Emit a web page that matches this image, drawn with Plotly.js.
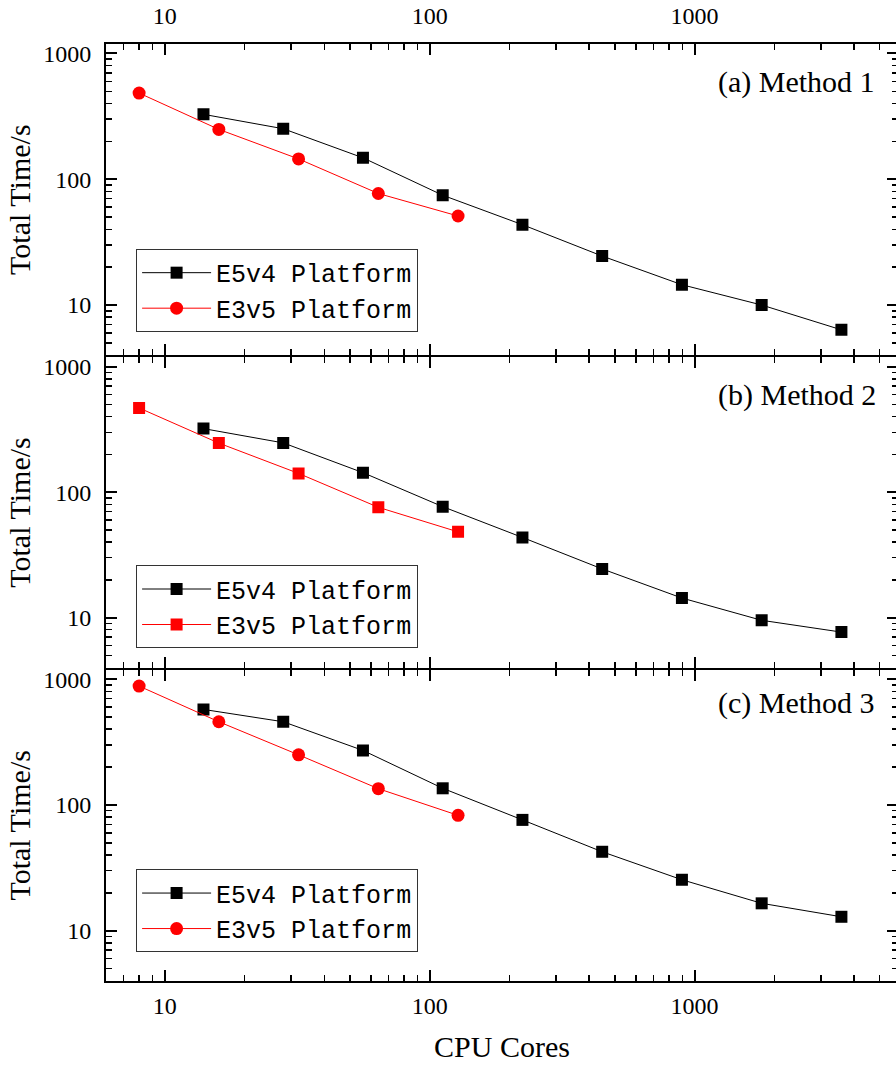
<!DOCTYPE html>
<html>
<head>
<meta charset="utf-8">
<script src="https://cdn.plot.ly/plotly-3.0.1.min.js"></script>
<style>
html,body{margin:0;padding:0;overflow:hidden;background:#fff;}
#chart{width:904px;height:1066px;}
</style>
</head>
<body>
<div id="chart"></div>
<script>
// ---- data ----
const coresE5v4 = [14, 28, 56, 112, 224, 448, 896, 1792, 3584];
const coresE3v5 = [8, 16, 32, 64, 128];

const m1E5v4 = [328, 252, 148, 74.6, 43.5, 24.5, 14.5, 10.0, 6.35];
const m1E3v5 = [484, 249, 145, 77, 51];

const m2E5v4 = [321, 247, 143, 76.6, 43.5, 24.4, 14.3, 9.5, 7.65];
const m2E3v5 = [469, 246, 141, 75.7, 48.2];

const m3E5v4 = [574, 458, 271, 135.5, 76, 42.4, 25.4, 16.5, 12.9];
const m3E3v5 = [880, 458, 250, 134.6, 82.6];

const seriesNames = ["E5v4 Platform", "E3v5 Platform"];
const panelLabels = ["(a) Method 1", "(b) Method 2", "(c) Method 3"];
const xTitle = "CPU Cores";
const yTitle = "Total Time/s";

// ---- styling ----
const serif = "Liberation Serif, Times New Roman, serif";
const mono = "Liberation Mono, Courier New, monospace";
const tickFont = {family: serif, size: 24, color: "#000"};
const titleFont = {family: serif, size: 30, color: "#000"};

function trace(x, y, name, color, symbol, xa, ya, leg) {
  return {
    x: x, y: y, name: name, type: "scatter", mode: "lines+markers",
    xaxis: xa, yaxis: ya, legend: leg,
    line: {color: color, width: 1},
    marker: {color: color, symbol: symbol, size: symbol === "circle" ? 13 : 12}
  };
}

const data = [
  trace(coresE5v4, m1E5v4, seriesNames[0], "#000000", "square", "x", "y", "legend"),
  trace(coresE3v5, m1E3v5, seriesNames[1], "#ff0000", "circle", "x", "y", "legend"),
  trace(coresE5v4, m2E5v4, seriesNames[0], "#000000", "square", "x2", "y2", "legend2"),
  trace(coresE3v5, m2E3v5, seriesNames[1], "#ff0000", "square", "x2", "y2", "legend2"),
  trace(coresE5v4, m3E5v4, seriesNames[0], "#000000", "square", "x3", "y3", "legend3"),
  trace(coresE3v5, m3E3v5, seriesNames[1], "#ff0000", "circle", "x3", "y3", "legend3")
];

const xRange = [Math.log10(6), 3.768];
const yRange = [0.6, 3.075];
const H = 937; // plot area height in px
const g = 1 / H;

function xAxis(anchor, side, showLabels, standoff, withTitle) {
  const ax = {
    type: "log", range: xRange, anchor: anchor, side: side, domain: [0, 1],
    showline: true, linecolor: "#000", linewidth: 2, mirror: "ticks",
    showgrid: false, zeroline: false,
    tickmode: "linear", tick0: 0, dtick: 1,
    ticks: "inside", ticklen: 11, tickwidth: 2, tickcolor: "#000",
    minor: {dtick: "D1", ticks: "inside", ticklen: 6, tickwidth: 1.5, tickcolor: "#000", showgrid: false},
    showticklabels: showLabels, tickfont: tickFont, ticklabelstandoff: standoff
  };
  if (withTitle) ax.title = {text: xTitle, font: titleFont, standoff: 18};
  return ax;
}
function yAxis(anchor, domain) {
  return {
    type: "log", range: yRange, anchor: anchor, domain: domain,
    showline: true, linecolor: "#000", linewidth: 2, mirror: "ticks",
    showgrid: false, zeroline: false,
    tickmode: "linear", tick0: 0, dtick: 1,
    ticks: "inside", ticklen: 11, tickwidth: 2, tickcolor: "#000",
    minor: {dtick: "D1", ticks: "inside", ticklen: 6, tickwidth: 1.5, tickcolor: "#000", showgrid: false},
    tickfont: tickFont, ticklabelstandoff: 8,
    title: {text: yTitle, font: titleFont, standoff: 4}
  };
}
function legend(yTop) {
  return {
    x: 0.038, y: yTop, xanchor: "left", yanchor: "top",
    bgcolor: "#fff", bordercolor: "#333", borderwidth: 1,
    font: {family: mono, size: 25, color: "#000"},
    itemwidth: 69, tracegroupgap: 0
  };
}

const layout = {
  width: 904, height: 1066,
  margin: {l: 106, r: 6, t: 44, b: 85},
  paper_bgcolor: "#fff", plot_bgcolor: "#fff",
  showlegend: true,
  xaxis: xAxis("y", "top", true, 8, false),
  xaxis2: xAxis("y2", "bottom", false, 2, false),
  xaxis3: xAxis("y3", "bottom", true, 2, true),
  yaxis: yAxis("x", [2/3 + g, 1]),
  yaxis2: yAxis("x2", [1/3 + g, 2/3 - g]),
  yaxis3: yAxis("x3", [0, 1/3 - g]),
  legend: legend(0.7813),
  legend2: legend(0.4437),
  legend3: legend(0.1192),
  annotations: [
    {text: panelLabels[0], xref: "paper", yref: "paper", x: 0.973, y: (981-82)/H, xanchor: "right", yanchor: "middle", showarrow: false, font: titleFont},
    {text: panelLabels[1], xref: "paper", yref: "paper", x: 0.975, y: (981-395)/H, xanchor: "right", yanchor: "middle", showarrow: false, font: titleFont},
    {text: panelLabels[2], xref: "paper", yref: "paper", x: 0.973, y: (981-703)/H, xanchor: "right", yanchor: "middle", showarrow: false, font: titleFont}
  ]
};

Plotly.newPlot("chart", data, layout, {displayModeBar: false, staticPlot: true});
</script>
</body>
</html>
